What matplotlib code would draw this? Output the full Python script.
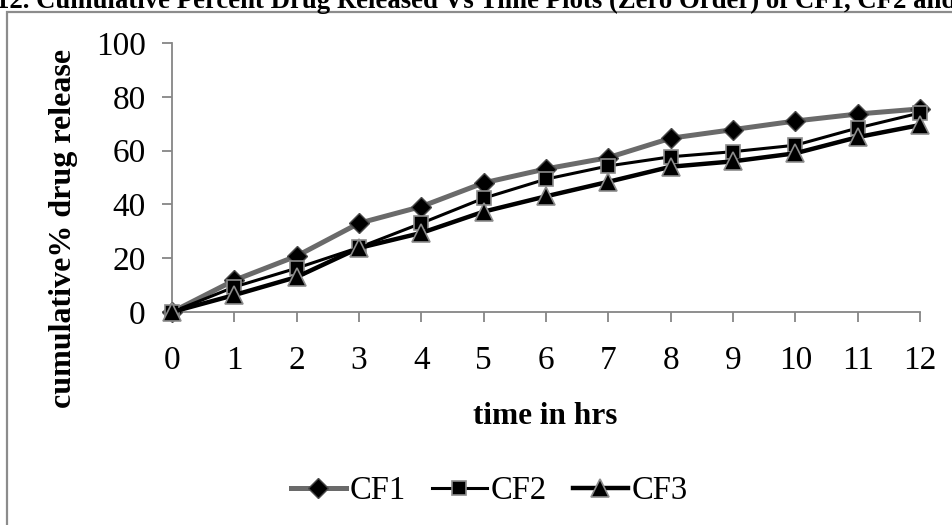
import matplotlib.pyplot as plt
from matplotlib.patches import Rectangle

plt.rcParams['font.family'] = ['Liberation Serif', 'DejaVu Serif']

time_hrs = [0, 1, 2, 3, 4, 5, 6, 7, 8, 9, 10, 11, 12]
cf1 = [0, 11.8, 20.8, 33.0, 39.2, 48.0, 53.2, 57.4, 64.6, 67.8, 71.0, 73.6, 75.5]
cf2 = [0, 9.3, 16.3, 24.0, 33.0, 42.3, 49.4, 54.3, 57.7, 59.6, 62.0, 68.4, 74.0]
cf3 = [0, 6.3, 13.0, 23.8, 29.4, 37.3, 43.0, 48.4, 54.0, 56.0, 59.0, 65.0, 69.5]
y_ticks = [0, 20, 40, 60, 80, 100]

W, H = 953, 525
fig = plt.figure(figsize=(W / 100, H / 100), dpi=100)
ax = fig.add_axes([172/W, 1 - 312/H, 748/W, 269/H])

# outer chart border
fig.patches.append(Rectangle((6.5/W, -0.1), 1.1, 1 - 12/H + 0.1,
                             transform=fig.transFigure, fill=False,
                             edgecolor='#8c8c8c', linewidth=1.6))

fig.text(-0.004, 1 - 8/H, '12. Cumulative Percent Drug Released Vs Time Plots (Zero Order) of CF1, CF2 and',
         fontsize=19.3, fontweight='bold', ha='left', va='baseline')

ax.plot(time_hrs, cf1, color='#6a6a6a', linewidth=3.6, marker='D', markersize=10,
        markerfacecolor='black', markeredgecolor='#4a4a4a', markeredgewidth=1,
        clip_on=False, label='CF1', zorder=3)
ax.plot(time_hrs, cf2, color='black', linewidth=2.2, marker='s', markersize=10,
        markerfacecolor='black', markeredgecolor='#8c8c8c', markeredgewidth=1.2,
        clip_on=False, label='CF2', zorder=4)
ax.plot(time_hrs, cf3, color='black', linewidth=3.2, marker='^', markersize=13,
        markerfacecolor='black', markeredgecolor='#8c8c8c', markeredgewidth=1.2,
        clip_on=False, label='CF3', zorder=5)

ax.set_xlim(0, 12)
ax.set_ylim(0, 100)
ax.set_xticks(time_hrs)
ax.set_yticks(y_ticks)
for side in ['top', 'right']:
    ax.spines[side].set_visible(False)
for side in ['left', 'bottom']:
    ax.spines[side].set_color('#868686')
    ax.spines[side].set_linewidth(1.3)
ax.tick_params(axis='both', colors='#868686', length=7, width=1.3,
               labelsize=24, labelcolor='black', direction='out')
ax.tick_params(axis='y', pad=12)
ax.tick_params(axis='x', pad=17)

# axis titles sit in the chart area, not centred on the axes
fig.text(545/W, 1 - 416/H, 'time in hrs', fontsize=22.5, fontweight='bold',
         ha='center', va='center')
fig.text(64/W, 1 - 228/H, 'cumulative% drug release', fontsize=23, fontweight='bold',
         ha='center', va='center', rotation=90)

fig.legend(loc='center', bbox_to_anchor=(489/W, 1 - 491/H), ncol=3,
           frameon=False, fontsize=23.5, handlelength=1.7, handletextpad=0.1,
           columnspacing=0.8)

fig.savefig('out.png', dpi=100)
